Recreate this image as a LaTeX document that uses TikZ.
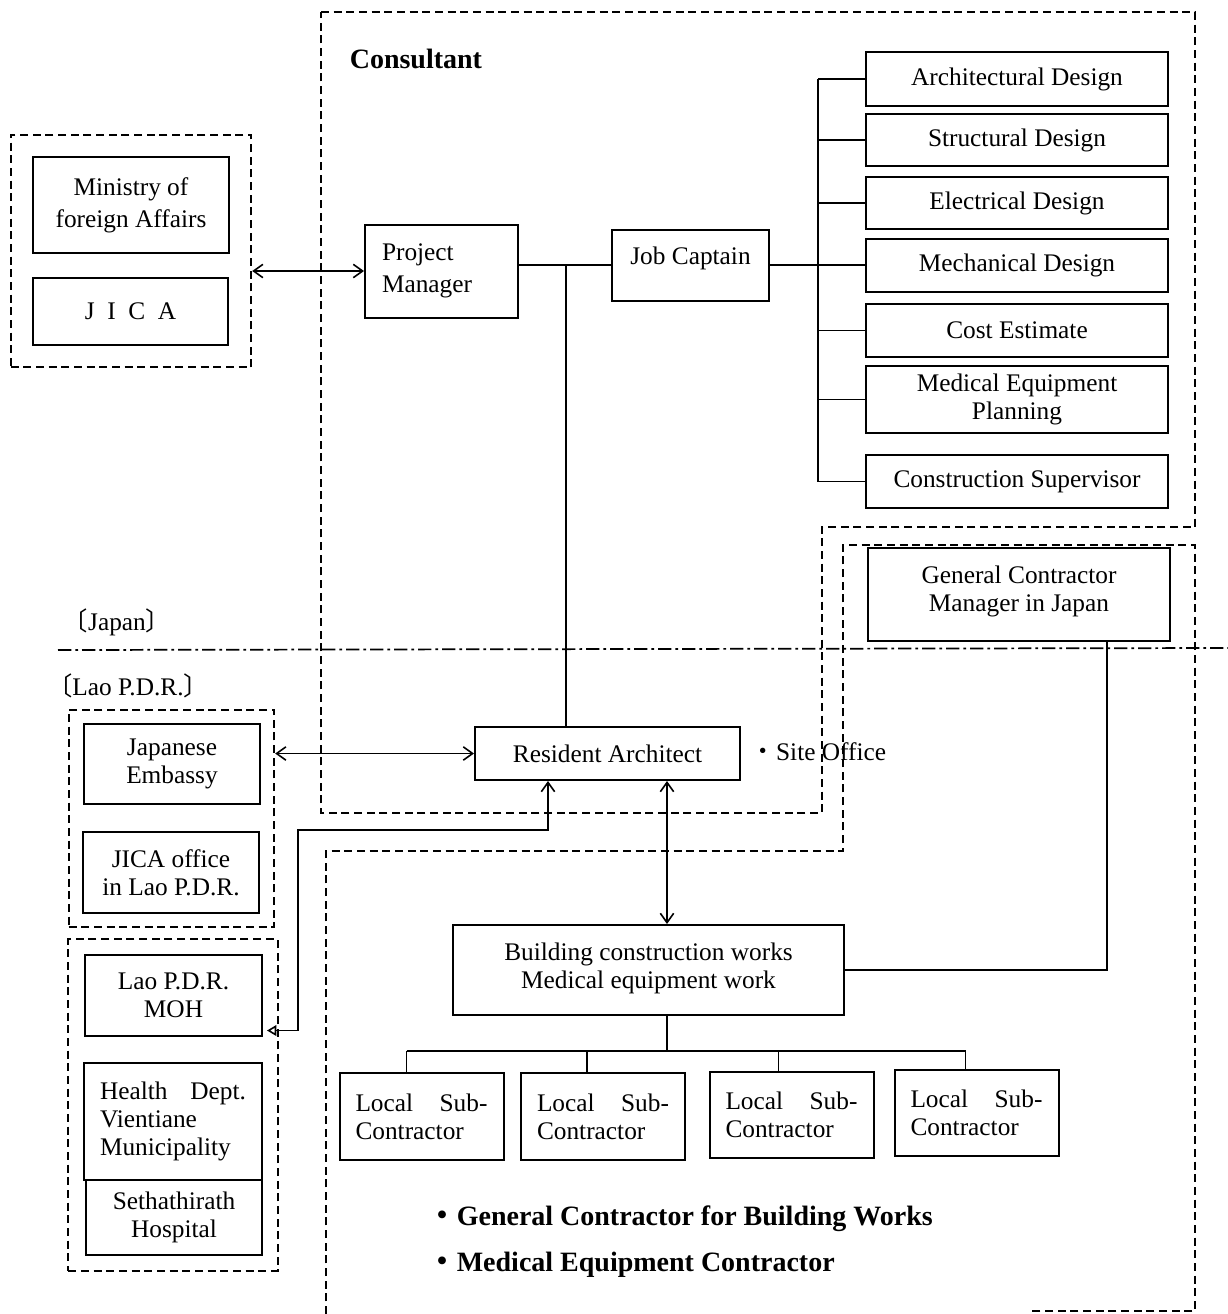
\documentclass[tikz,border=0pt]{standalone}
\usepackage{fontspec}
\setmainfont{Liberation Serif}
\newfontfamily\cjk{Noto Sans CJK JP}
\usetikzlibrary{arrows.meta,calc,fit}
\tikzset{every picture/.style={line width=1.2pt}}
\tikzset{
  box/.style={draw, line width=1.5pt, inner sep=0pt, align=center, font=\fontsize{19}{21}\selectfont},
  widebox/.style={box, font=\fontsize{19}{24}\selectfont},
  leftbox/.style={box, align=left, inner xsep=12pt},
  grp/.style={draw, dash pattern=on 6pt off 3.5pt, line width=1.3pt},
  bnd/.style={dash pattern=on 6pt off 3.5pt, line width=1.3pt},
  divline/.style={dash pattern=on 10pt off 3pt on 2pt off 3pt, line width=1.3pt},
  lbl/.style={inner sep=0pt, font=\fontsize{19}{21}\selectfont},
  boldlbl/.style={inner sep=0pt, font=\fontsize{21}{26}\selectfont\bfseries},
  twoway/.style={arrows={Straight Barb[length=7pt,width=10pt]-Straight Barb[length=7pt,width=10pt]}},
  backway/.style={arrows={Triangle[open,length=7pt,width=8pt]-Straight Barb[length=7pt,width=10pt]}}
}

\begin{document}
\begin{tikzpicture}[x=0.75pt,y=0.75pt,yscale=-1,xscale=1]
\useasboundingbox (0,0) rectangle (1228,1314);

% Japan side
\node [widebox, minimum width=147pt, minimum height=72pt] (mofa) at (131,205) {Ministry of\\foreign Affairs};
\node [box, minimum width=146.25pt, minimum height=50.25pt] (jica) at (130.5,311.5) {J\ \ I\ \ C\ \ A};
\node [grp, fit=(mofa)(jica), inner sep=16pt] (japgov) {};

\node [leftbox, font=\fontsize{19}{24}\selectfont, text width=89.25pt, inner xsep=12.75pt, minimum height=69.75pt] (pm) at (441.5,271) {Project\\Manager};
\node [box, minimum width=117.75pt, minimum height=53.25pt, text depth=14pt] (jc) at (690.5,265) {Job Captain};

\node [box, minimum width=226.5pt, minimum height=40.5pt] (arch) at (1017,79) {Architectural Design};
\node [box, minimum width=226.5pt, minimum height=39pt] (struct) at (1017,140) {Structural Design};
\node [box, minimum width=226.5pt, minimum height=39pt] (elec) at (1017,203) {Electrical Design};
\node [box, minimum width=226.5pt, minimum height=39.75pt] (mech) at (1017,265) {Mechanical Design};
\node [box, minimum width=226.5pt, minimum height=39.75pt] (cost) at (1017,330.5) {Cost Estimate};
\node [box, minimum width=226.5pt, minimum height=50.25pt] (medeq) at (1017,399.5) {Medical Equipment\\Planning};
\node [box, minimum width=226.5pt, minimum height=39.75pt] (csup) at (1017,481.5) {Construction Supervisor};

\node [box, minimum width=226.5pt, minimum height=69.75pt] (gcm) at (1019,594.5) {General Contractor\\Manager in Japan\\[-12pt]};

% Lao side
\node [box, minimum width=198.75pt, minimum height=39.75pt] (ra) at (607.5,753.5) {Resident Architect};
\node [box, minimum width=293.25pt, minimum height=67.5pt] (bc) at (648.5,970) {Building construction works\\Medical equipment work\\[-15pt]};

\node [box, minimum width=132pt, minimum height=60pt] (emb) at (172,764) {Japanese\\Embassy};
\node [box, minimum width=132pt, minimum height=60.75pt] (jof) at (171,872.5) {JICA office\\in Lao P.D.R.};
\node [grp, fit=(emb)(jof), inner sep=10pt] (laogrp1) {};

\node [box, minimum width=132.75pt, minimum height=60.75pt] (moh) at (173.5,995.5) {Lao P.D.R.\\MOH};
\node [leftbox, text width=109.5pt, minimum height=87.75pt] (hd) at (173,1121.5) {Health\hfill Dept.\\Vientiane\\Municipality\\[15pt]};
\node [box, minimum width=132pt, minimum height=56.25pt] (seth) at (174,1217.5) {Sethathirath\\Hospital};
\node [grp, fit=(moh)(hd)(seth), inner sep=11pt] (laogrp2) {};

\node [leftbox, text width=99pt, minimum height=65.25pt] (s1) at (421.5,1116.5) {Local\hfill Sub-\\Contractor\\[11pt]};
\node [leftbox, text width=99pt, minimum height=65.25pt] (s2) at (603,1116.5) {Local\hfill Sub-\\Contractor\\[11pt]};
\node [leftbox, text width=99pt, minimum height=64.5pt] (s3) at (791.5,1114.5) {Local\hfill Sub-\\Contractor\\[11pt]};
\node [leftbox, text width=99pt, minimum height=64.5pt] (s4) at (976.5,1113) {Local\hfill Sub-\\Contractor\\[11pt]};

% labels
\node [boldlbl, anchor=west] (consultant) at (349,59) {Consultant};
\node [lbl] (japan) at (117,622) {{\cjk 〔}Japan{\cjk 〕}};
\node [lbl] (lao) at (128,686) {{\cjk 〔}Lao P.D.R.{\cjk 〕}};
\node [lbl, anchor=west] (site) at (750,752) {{\cjk ・}Site Office};
\node [boldlbl, anchor=west] (gencon) at (428,1219) {{\cjk ・}General Contractor for Building Works};
\node [boldlbl, anchor=west] (medcon) at (428,1265) {{\cjk ・}Medical Equipment Contractor};

% outlines
\draw [bnd] (321,12) -- (1195,12) -- (1195,527) -- (822,527) -- (822,813) -- (321,813) -- cycle;
\draw [bnd] (326,1314) -- (326,851) -- (843,851) -- (843,545) -- (1195,545) -- (1195,1311) -- (1030,1311);
\draw [divline] (58,650) -- (1228,648);

% connectors
\coordinate (drop) at (566,0);
\coordinate (bus) at (818,0);
\coordinate (link) at (667,0);
\coordinate (turn) at (548,830);
\coordinate (side) at (298,830);
\coordinate (sbus) at (0,1051);

\draw [twoway] (pm.west -| japgov.east) -- (pm.west);
\draw (jc.west -| pm.east) -- (jc.west);
\draw (drop |- jc.west) -- (drop |- ra.north);
\draw (jc.east) -- (bus |- jc.east);
\draw (bus |- arch.west) -- (bus |- csup.west);
\foreach \n in {arch,struct,elec,mech,cost,medeq,csup}
  \draw (bus |- \n.west) -- (\n.west);

\draw [twoway] (ra.west -| laogrp1.east) -- (ra.west);
\draw [twoway] (link |- ra.south) -- (link |- bc.north);
\draw [backway] ($(moh.east)+(4,35)$) -| (side) -- (turn) -- (turn |- ra.south);
\draw (bc.east) -| ($(gcm.south)+(88,0)$);

\draw (link |- bc.south) -- (link |- sbus);
\draw ($(s1.north |- sbus)+(-15,0)$) -- ($(s4.north |- sbus)+(-11,0)$);
\foreach \s/\dx in {s1/-15,s2/-16,s3/-13,s4/-11}
  \draw ($(\s.north)+(\dx,0)$) -- ($(\s.north |- sbus)+(\dx,0)$);
\end{tikzpicture}
\end{document}
